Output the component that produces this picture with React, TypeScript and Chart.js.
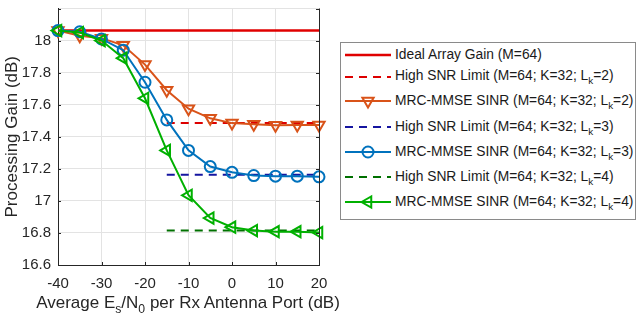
import React, { useEffect, useRef } from "react";
import { Chart, registerables } from "chart.js";

Chart.register(...registerables);

const snr = [-40, -35, -30, -25, -20, -15, -10, -5, 0, 5, 10, 15, 20];
const idealGain = 18.062;
const limitX = [-15, 20];
const limitL2 = 17.485;
const limitL3 = 17.163;
const limitL4 = 16.815;
const mrcL2 = [18.062, 18.03, 18.015, 17.97, 17.85, 17.69, 17.575, 17.515, 17.485, 17.478, 17.472, 17.474, 17.474];
const mrcL3 = [18.062, 18.055, 18.01, 17.94, 17.74, 17.505, 17.315, 17.214, 17.178, 17.158, 17.154, 17.154, 17.15];
const mrcL4 = [18.062, 18.05, 18.0, 17.89, 17.64, 17.315, 17.035, 16.893, 16.836, 16.815, 16.808, 16.808, 16.802];
const xTicks = [-40, -30, -20, -10, 0, 10, 20];
const yTicks = [16.6, 16.8, 17, 17.2, 17.4, 17.6, 17.8, 18, 18.2];

const FONT = '"Liberation Sans", Arial, Helvetica, sans-serif';
const AXIS = "#262626";
const C_IDEAL = "#e00000";
const C_LIM2 = "#dd0000";
const C_MRC2 = "#D95319";
const C_LIM3 = "#1515a0";
const C_MRC3 = "#0072BD";
const C_LIM4 = "#007000";
const C_MRC4 = "#00b000";

const pts = (ys: number[]) => snr.map((x, i) => ({ x, y: ys[i] }));
const flat = (v: number, xs: number[]) => xs.map((x) => ({ x, y: v }));

const boxPlugin = {
  id: "boxTicks",
  afterDatasetsDraw(chart: any) {
    const { ctx, chartArea } = chart;
    const { left, right, top, bottom } = chartArea;
    const xs = chart.scales.x;
    const ys = chart.scales.y;
    ctx.save();
    ctx.strokeStyle = AXIS;
    ctx.lineWidth = 1;
    ctx.beginPath();
    ctx.moveTo(right + 0.5, top);
    ctx.lineTo(right + 0.5, bottom);
    const t = 3;
    xTicks.forEach((v) => {
      const px = Math.round(xs.getPixelForValue(v)) + 0.5;
      ctx.moveTo(px, bottom);
      ctx.lineTo(px, bottom - t);
    });
    yTicks.forEach((v) => {
      const py = Math.round(ys.getPixelForValue(v)) + 0.5;
      ctx.moveTo(left, py);
      ctx.lineTo(left + t, py);
      ctx.moveTo(right, py);
      ctx.lineTo(right - t, py);
    });
    ctx.stroke();
    ctx.restore();
  },
};

type Row = {
  y: number;
  color: string;
  dash?: boolean;
  marker?: "down" | "circle" | "left";
  text: string;
  sub?: string;
  tail?: string;
  width?: number;
};

const rows: Row[] = [
  { y: 55, color: C_IDEAL, text: "Ideal Array Gain (M=64)", width: 2.5 },
  { y: 76.5, color: C_LIM2, dash: true, text: "High SNR Limit (M=64; K=32; L", sub: "k", tail: "=2)" },
  { y: 101, color: C_MRC2, marker: "down", text: "MRC-MMSE SINR (M=64; K=32; L", sub: "k", tail: "=2)" },
  { y: 127, color: C_LIM3, dash: true, text: "High SNR Limit (M=64; K=32; L", sub: "k", tail: "=3)" },
  { y: 152, color: C_MRC3, marker: "circle", text: "MRC-MMSE SINR (M=64; K=32; L", sub: "k", tail: "=3)" },
  { y: 177, color: C_LIM4, dash: true, text: "High SNR Limit (M=64; K=32; L", sub: "k", tail: "=4)" },
  { y: 202, color: C_MRC4, marker: "left", text: "MRC-MMSE SINR (M=64; K=32; L", sub: "k", tail: "=4)" },
];

function Sample({ r }: { r: Row }) {
  const w = 46;
  const h = 20;
  const cy = 10;
  const cx = 23;
  let marker: any = null;
  if (r.marker === "down") {
    const R = 6.5;
    marker = (
      <polygon
        points={`${cx - R * 0.866},${cy - R / 2} ${cx + R * 0.866},${cy - R / 2} ${cx},${cy + R}`}
        fill="none"
        stroke={r.color}
        strokeWidth={2}
      />
    );
  } else if (r.marker === "circle") {
    marker = <circle cx={cx} cy={cy} r={5.5} fill="none" stroke={r.color} strokeWidth={2} />;
  } else if (r.marker === "left") {
    const R = 6.5;
    marker = (
      <polygon
        points={`${cx - R},${cy} ${cx + R / 2},${cy - R * 0.866} ${cx + R / 2},${cy + R * 0.866}`}
        fill="none"
        stroke={r.color}
        strokeWidth={2}
      />
    );
  }
  return (
    <svg width={w} height={h} style={{ display: "block", overflow: "visible" }}>
      <line
        x1={0}
        y1={cy}
        x2={w}
        y2={cy}
        stroke={r.color}
        strokeWidth={r.width || 2}
        strokeDasharray={r.dash ? "8 6" : undefined}
      />
      {marker}
    </svg>
  );
}

export default function App() {
  const ref = useRef<HTMLCanvasElement | null>(null);

  useEffect(() => {
    document.body.style.margin = "0";
    const canvas = ref.current;
    if (!canvas) return;
    const lineBase = {
      fill: false,
      tension: 0,
      clip: false,
      backgroundColor: "transparent",
    };
    const chart = new Chart(canvas, {
      type: "line",
      data: {
        datasets: [
          { ...lineBase, label: "ideal", data: flat(idealGain, [-40, 20]), borderColor: C_IDEAL, borderWidth: 2.5, pointRadius: 0, order: 7 },
          { ...lineBase, label: "lim2", data: flat(limitL2, limitX), borderColor: C_LIM2, borderWidth: 2, borderDash: [8, 6], pointRadius: 0, order: 6 },
          {
            ...lineBase,
            label: "mrc2",
            data: pts(mrcL2),
            borderColor: C_MRC2,
            borderWidth: 2,
            pointStyle: "triangle",
            pointRotation: 180,
            pointRadius: 6.5,
            pointBorderWidth: 2,
            pointBackgroundColor: "transparent",
            pointBorderColor: C_MRC2,
            order: 5,
          },
          { ...lineBase, label: "lim3", data: flat(limitL3, limitX), borderColor: C_LIM3, borderWidth: 2, borderDash: [8, 6], pointRadius: 0, order: 4 },
          {
            ...lineBase,
            label: "mrc3",
            data: pts(mrcL3),
            borderColor: C_MRC3,
            borderWidth: 2,
            pointStyle: "circle",
            pointRadius: 5.5,
            pointBorderWidth: 2,
            pointBackgroundColor: "transparent",
            pointBorderColor: C_MRC3,
            order: 3,
          },
          { ...lineBase, label: "lim4", data: flat(limitL4, limitX), borderColor: C_LIM4, borderWidth: 2, borderDash: [8, 6], pointRadius: 0, order: 2 },
          {
            ...lineBase,
            label: "mrc4",
            data: pts(mrcL4),
            borderColor: C_MRC4,
            borderWidth: 2,
            pointStyle: "triangle",
            pointRotation: -90,
            pointRadius: 6.5,
            pointBorderWidth: 2,
            pointBackgroundColor: "transparent",
            pointBorderColor: C_MRC4,
            order: 1,
          },
        ],
      },
      options: {
        responsive: false,
        animation: false,
        events: [],
        layout: { padding: { left: 0, top: 0, right: 321, bottom: 0 } },
        plugins: { legend: { display: false }, tooltip: { enabled: false } },
        scales: {
          x: {
            type: "linear",
            min: -40,
            max: 20,
            afterBuildTicks: (s: any) => {
              s.ticks = xTicks.map((v) => ({ value: v }));
            },
            afterFit: (s: any) => {
              s.height = 55;
              s.paddingLeft = 0;
              s.paddingRight = 0;
            },
            ticks: {
              font: { family: FONT, size: 15 },
              color: AXIS,
              padding: 10,
              maxRotation: 0,
              callback: (v: any) => String(v),
            },
            grid: { color: "#e3e3e3", lineWidth: 1, drawTicks: false },
            border: { display: true, color: AXIS, width: 1 },
          },
          y: {
            type: "linear",
            min: 16.6,
            max: 18.2,
            afterBuildTicks: (s: any) => {
              s.ticks = yTicks.map((v) => ({ value: v }));
            },
            afterFit: (s: any) => {
              s.width = 58;
              s.paddingTop = 0;
              s.paddingBottom = 0;
            },
            ticks: {
              font: { family: FONT, size: 15 },
              color: AXIS,
              padding: 7,
              callback: (v: any) => {
                const n = Number(v);
                if (Math.abs(n - 18.2) < 1e-6) return "";
                return String(Number(n.toFixed(1)));
              },
            },
            grid: { color: "#e3e3e3", lineWidth: 1, drawTicks: false },
            border: { display: true, color: AXIS, width: 1 },
            title: {
              display: true,
              text: "Processing Gain (dB)",
              font: { family: FONT, size: 17 },
              color: AXIS,
              padding: { top: 2, bottom: 0 },
            },
          },
        },
      },
      plugins: [boxPlugin],
    } as any);
    return () => chart.destroy();
  }, []);

  return (
    <div style={{ position: "relative", width: 640, height: 320, background: "#fff", overflow: "hidden" }}>
      <canvas ref={ref} width={640} height={320} style={{ position: "absolute", left: 0, top: 0 }} />
      <div
        style={{
          position: "absolute",
          left: 188,
          top: 303,
          transform: "translate(-50%, -50%)",
          whiteSpace: "nowrap",
          fontFamily: FONT,
          fontSize: 17,
          color: AXIS,
          lineHeight: "20px",
        }}
      >
        Average E
        <span style={{ fontSize: "0.72em", position: "relative", top: "0.4em" }}>s</span>
        /N
        <span style={{ fontSize: "0.72em", position: "relative", top: "0.4em" }}>0</span> per Rx Antenna Port (dB)
      </div>
      <div
        style={{
          position: "absolute",
          left: 340,
          top: 42,
          width: 296,
          height: 178,
          border: "1px solid #8a8a8a",
          boxSizing: "border-box",
          background: "#fff",
        }}
      />
      {rows.map((r, i) => (
        <div
          key={i}
          style={{
            position: "absolute",
            left: 345,
            top: r.y - 10,
            height: 20,
            display: "flex",
            alignItems: "center",
            whiteSpace: "nowrap",
            fontFamily: FONT,
            fontSize: 13.8,
            color: "#1a1a1a",
          }}
        >
          <Sample r={r} />
          <span style={{ marginLeft: 4, lineHeight: "20px" }}>
            {r.text}
            {r.sub ? (
              <span style={{ fontSize: "0.72em", position: "relative", top: "0.45em" }}>{r.sub}</span>
            ) : null}
            {r.tail || ""}
          </span>
        </div>
      ))}
    </div>
  );
}
